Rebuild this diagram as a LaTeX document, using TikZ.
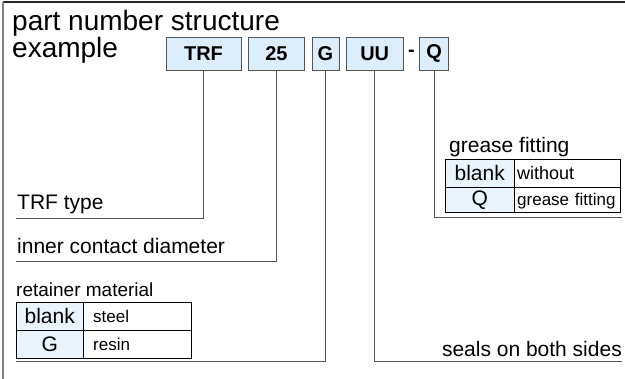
\documentclass[tikz,border=0pt]{standalone}
\usepackage{fontspec}
\setmainfont{Liberation Sans}
\usetikzlibrary{positioning,calc}
\definecolor{boxblue}{HTML}{DCEEFB}
\definecolor{cellblue}{HTML}{EAF4FC}
\definecolor{leadgray}{HTML}{555555}
\tikzset{
x=1pt, y=-1pt, % pixel grid, y running downwards
partbox/.style={draw=leadgray, fill=boxblue, minimum height=33pt, inner sep=0pt,
  font=\fontsize{20}{20}\selectfont\bfseries}, % one box per code letter
leader/.style={draw=leadgray, line width=1pt}, % line from a box down to its label
lbl/.style={anchor=base west, inner sep=0pt, font=\fontsize{21}{21}\selectfont},
keycell/.style={draw=black, fill=cellblue, minimum height=28pt, inner sep=0pt,
  anchor=north west, font=\fontsize{21}{21}\selectfont},
valcell/.style={draw=black, minimum height=28pt, inner sep=0pt, text depth=0pt,
  anchor=north west, align=left},
}

\begin{document}
\begin{tikzpicture}
    \useasboundingbox[fill=white] (0,0) rectangle (625,379);
    \draw[black!85, line width=1.2pt] (3,2) -- (625,2);
    \draw[gray, line width=1.2pt] (3,2) -- (3,379);

    % heading
    \node[lbl, font=\fontsize{28}{28}\selectfont] (title) at (12,31) {part number structure};
    \node[lbl, font=\fontsize{28}{28}\selectfont] (title2) at (12,58) {example};

    % code boxes
    \node[partbox, minimum width=75pt] (trf) at (203.5,53.5) {TRF};
    \node[partbox, minimum width=56pt, right=7pt of trf] (dia) {25};
    \node[partbox, minimum width=27pt, right=7pt of dia] (ret) {G};
    \node[partbox, minimum width=57pt, right=7pt of ret] (seal) {UU};
    \node[partbox, minimum width=29pt, right=16pt of seal] (grease) {Q};
    \node[font=\fontsize{20}{20}\selectfont\bfseries, inner sep=0pt] (dash) at ($(seal.east)!0.5!(grease.west)$) {-};

    % labels
    \node[lbl] (trftype) at (17,210) {TRF type};
    \node[lbl] (diatype) at (17,254) {inner contact diameter};
    \node[lbl, font=\fontsize{19}{19}\selectfont] (rettype) at (16,297) {retainer material};
    \node[lbl, anchor=base east] (sealtype) at (622,357) {seals on both sides};
    \node[lbl] (greasetype) at (449,153) {grease fitting};

    \coordinate (trfend) at (16,219);
    \coordinate (diaend) at (16,262);
    \coordinate (retend) at (16,362);
    \coordinate (sealend) at (622,362);
    \coordinate (greaseend) at (622,218);

    \draw[leader] (trf.south) |- (trfend);
    \draw[leader] (dia.south) |- (diaend);
    \draw[leader] (ret.south) |- (retend);
    \draw[leader] (seal.south) |- (sealend);
    \draw[leader] (grease.south) |- (greaseend);

    % retainer table
    \node[keycell, minimum width=67pt] (rk1) at (16,302) {blank};
    \node[keycell, minimum width=67pt] (rk2) at (16,330) {G};
    \node[valcell, minimum width=108pt, text width=88pt, font=\fontsize{17}{17}\selectfont] (rv1) at (83,302) {steel};
    \node[valcell, minimum width=108pt, text width=88pt, font=\fontsize{17}{17}\selectfont] (rv2) at (83,330) {resin};

    % grease table
    \node[keycell, minimum width=69pt] (gk1) at (445,159) {blank};
    \node[keycell, minimum width=69pt, minimum height=25pt] (gk2) at (445,187) {Q};
    \node[valcell, minimum width=106pt, text width=100pt, font=\fontsize{18}{18}\selectfont] (gv1) at (514,159) {without};
    \node[valcell, minimum width=106pt, minimum height=25pt, text width=100pt, font=\fontsize{17}{17}\selectfont] (gv2) at (514,187) {\mbox{grease fitting}};
\end{tikzpicture}
\end{document}
